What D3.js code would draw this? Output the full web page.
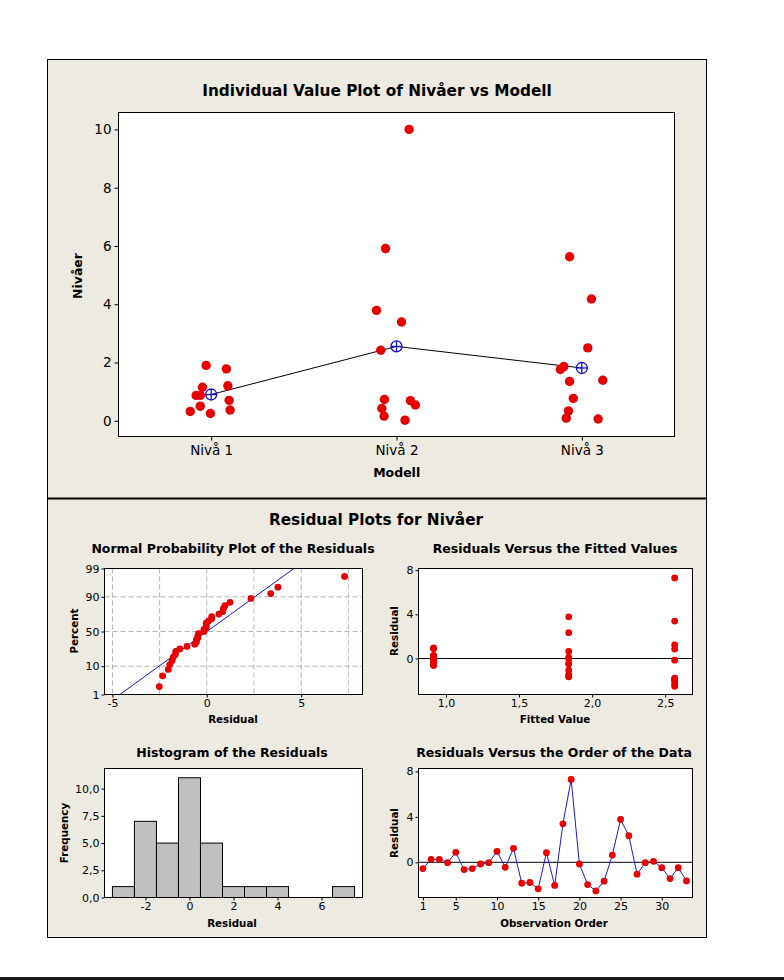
<!DOCTYPE html>
<html><head><meta charset="utf-8">
<script src="https://cdn.jsdelivr.net/npm/d3@7"></script>
<style>body{margin:0;background:#fff}svg{display:block}</style>
</head><body><svg id="c" width="784" height="980"></svg>
<script>
// ---------------- DATA ----------------
const categories = ["Nivå 1", "Nivå 2", "Nivå 3"];
// observation group (index into categories), in observation order
const obsGroup = [0,0,0,0,0,0,0,0,0,0,0, 1,1,1,1,1,1,1,1,1,1,1, 2,2,2,2,2,2,2,2,2,2,2];
// Nivåer values, in observation order
const values = [0.37,1.15,1.20,0.87,1.78,0.25,0.32,0.70,0.87,1.90,0.50,
                3.79,0.69,0.73,0.16,3.39,0.42,5.91,10.0,2.42,0.54,0.02,
                0.06,2.50,5.63,4.18,0.77,1.76,1.86,1.35,0.34,1.39,0.09];
// horizontal jitter of each point (fraction of category step)
const jitter = [0.102,-0.047,0.090,-0.081,0.082,-0.004,-0.113,0.097,-0.059,-0.027,-0.059,
                -0.108,0.075,-0.065,-0.067,0.027,-0.079,-0.059,0.068,-0.085,0.102,0.046,
                0.088,0.032,-0.066,0.052,-0.046,-0.116,-0.097,-0.066,-0.072,0.113,-0.084];
// residuals, in observation order
const residuals = [-0.55,0.26,0.26,-0.03,0.88,-0.64,-0.55,-0.15,-0.03,0.96,-0.44,
                   1.23,-1.84,-1.78,-2.34,0.85,-2.04,3.39,7.30,-0.15,-1.96,-2.52,
                   -1.66,0.64,3.77,2.34,-1.05,-0.03,0.09,-0.47,-1.43,-0.47,-1.64];
// fitted value per category
const fittedByGroup = [0.915, 2.565, 1.84];

const topYTicks = [0, 2, 4, 6, 8, 10];
const nppXTicks = [-5, 0, 5];
const nppXGrid = [-5, -2.5, 0, 2.5, 5, 7.5];
const nppPercentTicks = [1, 10, 50, 90, 99];
const nppPercentGrid = [10, 50, 90];
const rvfXTicks = [1.0, 1.5, 2.0, 2.5];
const residYTicks = [0, 4, 8];
const histXTicks = [-2, 0, 2, 4, 6];
const histYTicks = [0, 2.5, 5, 7.5, 10];
const histThresholds = [-3.5,-2.5,-1.5,-0.5,0.5,1.5,2.5,3.5,4.5,5.5,6.5,7.5];
const orderXTicks = [1, 5, 10, 15, 20, 25, 30];

// ---------------- STYLE ----------------
const FONT = "'DejaVu Sans', Verdana, sans-serif";
const BG = "#EDEAE1";
const RED = "#E60000";
const BLUE = "#1010D0";
const comma = d => d3.format(".1f")(d).replace(".", ",").replace("\u2212", "-");
const intf = d => String(d);

const svg = d3.select("#c");
svg.append("rect").attr("width", 784).attr("height", 980).attr("fill", "#fff");
svg.append("rect").attr("x", 47.5).attr("y", 59.5).attr("width", 659).attr("height", 878)
  .attr("fill", BG).attr("stroke", "#000");
svg.append("line").attr("x1", 47).attr("x2", 707).attr("y1", 498.5).attr("y2", 498.5)
  .attr("stroke", "#000").attr("stroke-width", 2);
svg.append("rect").attr("x", 0).attr("y", 977).attr("width", 784).attr("height", 3).attr("fill", "#1b1b1b");

function txt(x, y, s, o = {}) {
  const t = svg.append("text").attr("x", x).attr("y", y).text(s)
    .attr("font-family", FONT).attr("font-size", o.size || 12)
    .attr("font-weight", o.bold ? "bold" : "normal")
    .attr("text-anchor", o.anchor || "middle")
    .attr("dominant-baseline", "central").attr("fill", "#000");
  if (o.rotate) t.attr("transform", `rotate(-90,${x},${y})`);
  return t;
}
function styleAxis(g, size) {
  g.select(".domain").remove();
  g.selectAll("text").attr("font-family", FONT).attr("font-size", size).attr("fill", "#000");
  g.selectAll("line").attr("stroke", "#000");
}
function frame(b) {
  return svg.append("rect").attr("x", b.x0).attr("y", b.y0)
    .attr("width", b.x1 - b.x0).attr("height", b.y1 - b.y0)
    .attr("fill", "#fff");
}
function frameBorder(b) {
  svg.append("rect").attr("x", b.x0).attr("y", b.y0)
    .attr("width", b.x1 - b.x0).attr("height", b.y1 - b.y0)
    .attr("fill", "none").attr("stroke", "#000");
}

// ---------------- TOP: Individual Value Plot ----------------
const T = {x0: 118.5, x1: 674.5, y0: 112.5, y1: 436.5};
frame(T);
const xTop = d3.scalePoint().domain(categories).range([T.x0, T.x1]).padding(0.5);
const yTop = d3.scaleLinear().domain([-0.54, 10.58]).range([T.y1, T.y0]);

svg.append("g").attr("transform", `translate(${T.x0},0)`)
  .call(d3.axisLeft(yTop).tickValues(topYTicks).tickSize(4).tickPadding(3).tickFormat(intf))
  .call(g => styleAxis(g, 13.5));
svg.append("g").attr("transform", `translate(0,${T.y1})`)
  .call(d3.axisBottom(xTop).tickSize(4).tickPadding(5))
  .call(g => styleAxis(g, 13.5));

const means = categories.map((c, i) => d3.mean(values.filter((v, j) => obsGroup[j] === i)));
svg.append("path").datum(means)
  .attr("d", d3.line().x((d, i) => xTop(categories[i])).y(d => yTop(d)))
  .attr("fill", "none").attr("stroke", "#000").attr("stroke-width", 1);

svg.append("g").selectAll("circle").data(values).join("circle")
  .attr("cx", (d, i) => xTop(categories[obsGroup[i]]) + jitter[i] * xTop.step())
  .attr("cy", d => yTop(d)).attr("r", 4.7).attr("fill", RED);

const mg = svg.append("g").selectAll("g").data(means).join("g")
  .attr("transform", (d, i) => `translate(${xTop(categories[i])},${yTop(d)})`);
mg.append("circle").attr("r", 5.5).attr("fill", "none").attr("stroke", BLUE).attr("stroke-width", 1.3);
mg.append("line").attr("x1", -5.5).attr("x2", 5.5).attr("stroke", BLUE).attr("stroke-width", 1.3);
mg.append("line").attr("y1", -5.5).attr("y2", 5.5).attr("stroke", BLUE).attr("stroke-width", 1.3);
frameBorder(T);

txt(377, 91, "Individual Value Plot of Nivåer vs Modell", {size: 15.3, bold: true});
txt(77, 276, "Nivåer", {size: 12.5, bold: true, rotate: true});
txt(396.7, 472, "Modell", {size: 12.5, bold: true});

// ---------------- BOTTOM ----------------
txt(376, 520, "Residual Plots for Nivåer", {size: 15.3, bold: true});

// Normal probability plot
function qnorm(p) {
  const a=[-3.969683028665376e+01,2.209460984245205e+02,-2.759285104469687e+02,1.383577518672690e+02,-3.066479806614716e+01,2.506628277459239e+00];
  const b=[-5.447609879822406e+01,1.615858368580409e+02,-1.556989798598866e+02,6.680131188771972e+01,-1.328068155288572e+01];
  const c=[-7.784894002430293e-03,-3.223964580411365e-01,-2.400758277161838e+00,-2.549732539343734e+00,4.374664141464968e+00,2.938163982698783e+00];
  const d=[7.784695709041462e-03,3.224671290700398e-01,2.445134137142996e+00,3.754408661907416e+00];
  const pl = 0.02425, ph = 1 - pl; let q, r;
  if (p < pl) { q = Math.sqrt(-2*Math.log(p)); return (((((c[0]*q+c[1])*q+c[2])*q+c[3])*q+c[4])*q+c[5])/((((d[0]*q+d[1])*q+d[2])*q+d[3])*q+1); }
  if (p <= ph) { q = p - 0.5; r = q*q; return (((((a[0]*r+a[1])*r+a[2])*r+a[3])*r+a[4])*r+a[5])*q/(((((b[0]*r+b[1])*r+b[2])*r+b[3])*r+b[4])*r+1); }
  q = Math.sqrt(-2*Math.log(1-p)); return -(((((c[0]*q+c[1])*q+c[2])*q+c[3])*q+c[4])*q+c[5])/((((d[0]*q+d[1])*q+d[2])*q+d[3])*q+1);
}
const N = {x0: 104.5, x1: 362.5, y0: 568.5, y1: 694.5};
frame(N);
const xN = d3.scaleLinear().domain([-5.42, 8.25]).range([N.x0, N.x1]);
const yN = d3.scaleLinear().domain([qnorm(0.01), qnorm(0.99)]).range([N.y1, N.y0]);
svg.append("g").selectAll("line").data(nppXGrid).join("line")
  .attr("x1", d => xN(d)).attr("x2", d => xN(d)).attr("y1", N.y0).attr("y2", N.y1)
  .attr("stroke", "#b4b4b4").attr("stroke-dasharray", "5,3");
svg.append("g").selectAll("line").data(nppPercentGrid).join("line")
  .attr("y1", d => yN(qnorm(d/100))).attr("y2", d => yN(qnorm(d/100))).attr("x1", N.x0).attr("x2", N.x1)
  .attr("stroke", "#b4b4b4").attr("stroke-dasharray", "5,3");
const mu = d3.mean(residuals), sd = d3.deviation(residuals);
const zLo = qnorm(0.01), zHi = qnorm(0.99);
svg.append("line").attr("x1", xN(mu + sd*zLo)).attr("y1", yN(zLo)).attr("x2", xN(mu + sd*zHi)).attr("y2", yN(zHi))
  .attr("stroke", "#1a1ad0").attr("stroke-width", 1);
const sorted = residuals.slice().sort(d3.ascending);
const n = sorted.length;
svg.append("g").selectAll("circle").data(sorted).join("circle")
  .attr("cx", d => xN(d)).attr("cy", (d, i) => yN(qnorm((i + 1 - 0.3)/(n + 0.4))))
  .attr("r", 3.4).attr("fill", RED);
frameBorder(N);
svg.append("g").attr("transform", `translate(${N.x0},0)`)
  .call(d3.axisLeft(yN).tickValues(nppPercentTicks.map(p => qnorm(p/100))).tickSize(3).tickPadding(2)
    .tickFormat((d, i) => nppPercentTicks[i]))
  .call(g => styleAxis(g, 11));
svg.append("g").attr("transform", `translate(0,${N.y1})`)
  .call(d3.axisBottom(xN).tickValues(nppXTicks).tickSize(3).tickPadding(2).tickFormat(intf))
  .call(g => styleAxis(g, 11));
txt(233, 548, "Normal Probability Plot of the Residuals", {size: 12.5, bold: true});
txt(233, 719, "Residual", {size: 10.3, bold: true});
txt(74, 631, "Percent", {size: 10.3, bold: true, rotate: true});

// Residuals vs fitted
const F = {x0: 418.5, x1: 692.5, y0: 568.5, y1: 694.5};
frame(F);
const xF = d3.scaleLinear().domain([0.812, 2.687]).range([F.x0, F.x1]);
const yF = d3.scaleLinear().domain([-3.26, 8.15]).range([F.y1, F.y0]);
svg.append("line").attr("x1", F.x0).attr("x2", F.x1).attr("y1", yF(0)).attr("y2", yF(0)).attr("stroke", "#000");
svg.append("g").selectAll("circle").data(residuals).join("circle")
  .attr("cx", (d, i) => xF(fittedByGroup[obsGroup[i]])).attr("cy", d => yF(d))
  .attr("r", 3.4).attr("fill", RED);
frameBorder(F);
svg.append("g").attr("transform", `translate(${F.x0},0)`)
  .call(d3.axisLeft(yF).tickValues(residYTicks).tickSize(3).tickPadding(2).tickFormat(intf))
  .call(g => styleAxis(g, 11));
svg.append("g").attr("transform", `translate(0,${F.y1})`)
  .call(d3.axisBottom(xF).tickValues(rvfXTicks).tickSize(3).tickPadding(2).tickFormat(comma))
  .call(g => styleAxis(g, 11));
txt(555, 548, "Residuals Versus the Fitted Values", {size: 12.5, bold: true});
txt(555, 719, "Fitted Value", {size: 10.3, bold: true});
txt(394, 631, "Residual", {size: 10.3, bold: true, rotate: true});

// Histogram
const H = {x0: 104.5, x1: 362.5, y0: 768.5, y1: 897.5};
frame(H);
const xH = d3.scaleLinear().domain([-3.86, 7.86]).range([H.x0, H.x1]);
const yH = d3.scaleLinear().domain([0, 11.85]).range([H.y1, H.y0]);
const bins = d3.bin().domain([histThresholds[0], histThresholds[histThresholds.length - 1]])
  .thresholds(histThresholds.slice(1, -1))(residuals);
svg.append("g").selectAll("rect").data(bins.filter(b => b.length > 0)).join("rect")
  .attr("x", b => xH(b.x0)).attr("width", b => xH(b.x1) - xH(b.x0))
  .attr("y", b => yH(b.length)).attr("height", b => yH(0) - yH(b.length))
  .attr("fill", "#C0C0C0").attr("stroke", "#000").attr("stroke-width", 1);
frameBorder(H);
svg.append("g").attr("transform", `translate(${H.x0},0)`)
  .call(d3.axisLeft(yH).tickValues(histYTicks).tickSize(3).tickPadding(2).tickFormat(comma))
  .call(g => styleAxis(g, 11));
svg.append("g").attr("transform", `translate(0,${H.y1})`)
  .call(d3.axisBottom(xH).tickValues(histXTicks).tickSize(3).tickPadding(2).tickFormat(intf))
  .call(g => styleAxis(g, 11));
txt(232, 752, "Histogram of the Residuals", {size: 12.5, bold: true});
txt(232, 923, "Residual", {size: 10.3, bold: true});
txt(64, 833, "Frequency", {size: 10.3, bold: true, rotate: true});

// Residuals vs order
const O = {x0: 418.5, x1: 692.5, y0: 768.5, y1: 897.5};
frame(O);
const xO = d3.scaleLinear().domain([0.47, 33.73]).range([O.x0, O.x1]);
const yO = d3.scaleLinear().domain([-3.1, 8.26]).range([O.y1, O.y0]);
svg.append("line").attr("x1", O.x0).attr("x2", O.x1).attr("y1", yO(0)).attr("y2", yO(0)).attr("stroke", "#000");
svg.append("path").datum(residuals)
  .attr("d", d3.line().x((d, i) => xO(i + 1)).y(d => yO(d)))
  .attr("fill", "none").attr("stroke", "#1a1ad0").attr("stroke-width", 1);
svg.append("g").selectAll("circle").data(residuals).join("circle")
  .attr("cx", (d, i) => xO(i + 1)).attr("cy", d => yO(d)).attr("r", 3.4).attr("fill", RED);
frameBorder(O);
svg.append("g").attr("transform", `translate(${O.x0},0)`)
  .call(d3.axisLeft(yO).tickValues(residYTicks).tickSize(3).tickPadding(2).tickFormat(intf))
  .call(g => styleAxis(g, 11));
svg.append("g").attr("transform", `translate(0,${O.y1})`)
  .call(d3.axisBottom(xO).tickValues(orderXTicks).tickSize(3).tickPadding(2).tickFormat(intf))
  .call(g => styleAxis(g, 11));
txt(554, 752, "Residuals Versus the Order of the Data", {size: 12.5, bold: true});
txt(554, 923, "Observation Order", {size: 10.3, bold: true});
txt(394, 833, "Residual", {size: 10.3, bold: true, rotate: true});
</script></body></html>
